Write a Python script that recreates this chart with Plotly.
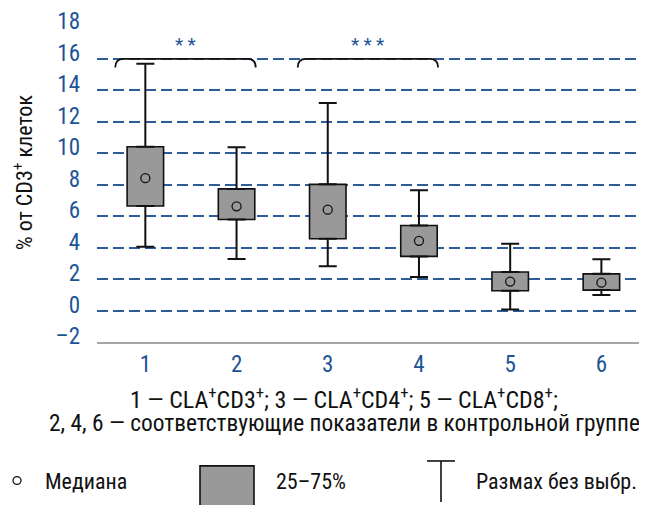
import plotly.graph_objects as go

# ---------------- data ----------------
categories = [1, 2, 3, 4, 5, 6]
x_tick_text = ["1", "2", "3", "4", "5", "6"]
whisker_low = [4.06, 3.28, 2.81, 2.13, 0.06, 0.99]
q1 = [6.64, 5.79, 4.56, 3.44, 1.26, 1.30]
median = [8.41, 6.62, 6.41, 4.43, 1.84, 1.77]
q3 = [10.41, 7.73, 8.02, 5.40, 2.45, 2.33]
whisker_high = [15.68, 10.37, 13.19, 7.65, 4.25, 3.26]
y_tick_vals = [-2, 0, 2, 4, 6, 8, 10, 12, 14, 16, 18]
y_tick_text = ["–2", "0", "2", "4", "6", "8", "10", "12", "14", "16", "18"]
sig_pairs = [(1, 2), (3, 4)]
sig_labels = ["* *", "* * *"]
bracket_level = 16
y_title = "% от CD3<sup>+</sup> клеток"
note_line1 = "1 — CLA<sup>+</sup>CD3<sup>+</sup>; 3 — CLA<sup>+</sup>CD4<sup>+</sup>; 5 — CLA<sup>+</sup>CD8<sup>+</sup>;"
note_line2 = "2, 4, 6 — соответствующие показатели в контрольной группе"
legend_labels = ["Медиана", "25–75%", "Размах без выбр."]

# ---------------- style ----------------
OFF = 8                      # page body margin of the browser
W, H = 647 - OFF, 505 - OFF
PLOT_L, PLOT_T, PLOT_B = 97, 19, 342   # screen pixels
L, T = PLOT_L - OFF, PLOT_T - OFF
B = H - (PLOT_B - OFF)
R = 0
PW, PH = W - L - R, H - T - B
FONT = "Roboto Condensed, DejaVu Sans Condensed, sans-serif"
BLUE = "#1d5496"
GRID = "#2e5d99"
BLACK = "#111111"
BOXFILL = "#999999"


def px(x):
    return (x - PLOT_L) / PW


def py(y):
    return (PLOT_B - y) / PH


fig = go.Figure()

# boxes (25-75%)
fig.add_trace(go.Bar(
    x=categories, y=[b - a for a, b in zip(q1, q3)], base=q1, width=0.4,
    marker=dict(color=BOXFILL, line=dict(color=BLACK, width=1.6)),
    hoverinfo="skip"))

# upper whiskers
fig.add_trace(go.Scatter(
    x=categories, y=q3, mode="markers", marker=dict(size=1, opacity=0),
    error_y=dict(type="data", symmetric=False,
                 array=[h - b for h, b in zip(whisker_high, q3)],
                 arrayminus=[0] * len(q3), color=BLACK, thickness=2, width=9),
    hoverinfo="skip"))
# lower whiskers
fig.add_trace(go.Scatter(
    x=categories, y=q1, mode="markers", marker=dict(size=1, opacity=0),
    error_y=dict(type="data", symmetric=False,
                 array=[0] * len(q1),
                 arrayminus=[a - lo for a, lo in zip(q1, whisker_low)],
                 color=BLACK, thickness=2, width=9),
    hoverinfo="skip"))
# medians
fig.add_trace(go.Scatter(
    x=categories, y=median, mode="markers",
    marker=dict(symbol="circle-open", size=9, color=BLACK, line=dict(width=1.3)),
    hoverinfo="skip"))

# significance brackets
shapes = []
annotations = []
for (a, b), lab in zip(sig_pairs, sig_labels):
    xl, xr = a - 0.33, b + 0.21
    yt, ye = bracket_level, bracket_level - 0.55
    d = 0.09
    path = (f"M {xl},{ye} Q {xl},{yt} {xl + d},{yt} L {xr - d},{yt} "
            f"Q {xr},{yt} {xr},{ye}")
    shapes.append(dict(type="path", path=path, xref="x", yref="y",
                       line=dict(color=BLACK, width=1.8)))
    annotations.append(dict(x=(xl + xr) / 2, y=bracket_level + 0.9, xref="x", yref="y",
                            text=lab, showarrow=False,
                            font=dict(family=FONT, size=19, color=BLUE)))

# y-axis title
annotations.append(dict(x=px(23), y=py(168), xref="paper", yref="paper",
                        text=y_title, textangle=-90, showarrow=False,
                        xanchor="center", yanchor="middle",
                        font=dict(family=FONT, size=22, color=BLACK)))

# notes under the axis
annotations.append(dict(x=px(344), y=py(399), xref="paper", yref="paper",
                        text=note_line1, showarrow=False, xanchor="center", yanchor="middle",
                        font=dict(family=FONT, size=24, color=BLACK)))
annotations.append(dict(x=px(344), y=py(425), xref="paper", yref="paper",
                        text=note_line2, showarrow=False, xanchor="center", yanchor="middle",
                        font=dict(family=FONT, size=23.4, color=BLACK)))

# legend
shapes.append(dict(type="circle", xref="paper", yref="paper",
                   x0=px(13), x1=px(21), y0=py(488), y1=py(480),
                   line=dict(color=BLACK, width=1.3)))
shapes.append(dict(type="rect", xref="paper", yref="paper",
                   x0=px(200), x1=px(254), y0=py(469), y1=py(512),
                   fillcolor=BOXFILL, line=dict(color=BLACK, width=1.6)))
shapes.append(dict(type="line", xref="paper", yref="paper",
                   x0=px(427), x1=px(455), y0=py(464), y1=py(464),
                   line=dict(color=BLACK, width=1.6)))
shapes.append(dict(type="line", xref="paper", yref="paper",
                   x0=px(441), x1=px(441), y0=py(464), y1=py(506),
                   line=dict(color=BLACK, width=1.6)))
for xpos, lab in zip([43, 274, 474], legend_labels):
    annotations.append(dict(x=px(xpos), y=py(485), xref="paper", yref="paper",
                            text=lab, showarrow=False, xanchor="left", yanchor="middle",
                            font=dict(family=FONT, size=22, color=BLACK)))

fig.update_layout(
    width=W, height=H, margin=dict(l=L, r=R, t=T, b=B),
    plot_bgcolor="white", paper_bgcolor="white", showlegend=False,
    font=dict(family=FONT),
    shapes=shapes, annotations=annotations,
    xaxis=dict(range=[0.47, 6.5], tickvals=categories, ticktext=x_tick_text,
               tickfont=dict(family=FONT, size=23, color=BLUE),
               showgrid=False, zeroline=False, showline=True,
               linecolor="#a6a6a6", linewidth=2, ticks=""),
    yaxis=dict(range=[-2, 18.02], tickvals=y_tick_vals, ticktext=y_tick_text,
               tickfont=dict(family=FONT, size=23, color=BLUE),
               showgrid=True, gridcolor=GRID, gridwidth=2, griddash="11px,5px",
               zeroline=False, showline=False, ticks="",
               ticklabelstandoff=16, ticklabelshift=-6,
               ticklabeloverflow="allow"),
)

fig.write_html("out.html")
